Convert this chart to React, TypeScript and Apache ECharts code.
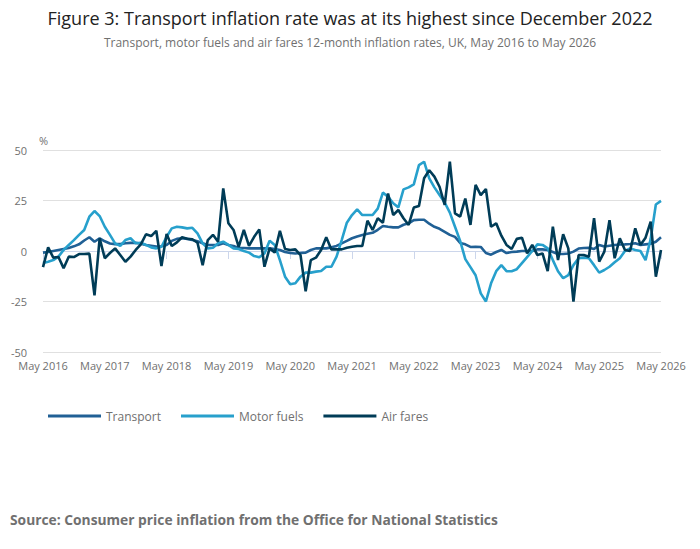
import React, { useEffect, useRef } from "react";
import * as echarts from "echarts";

const startYear = 2016;
const monthCount = 121;
const monthNames = ["Jan", "Feb", "Mar", "Apr", "May", "Jun", "Jul", "Aug", "Sep", "Oct", "Nov", "Dec"];
const categories: string[] = [];
for (let i = 0; i < monthCount; i++) {
  const m = (4 + i) % 12;
  const y = startYear + Math.floor((4 + i) / 12);
  categories.push(`${monthNames[m]} ${y}`);
}

const transport = [
  -0.8, -0.5, 0, 0.5, 1, 1.5, 2.3, 3.3, 5.2, 6.8, 4.6, 6.3,
  4.8, 3.7, 3.4, 3.4, 3.8, 4, 4.1, 3.6, 3, 2.6, 2.2, 2.3,
  3, 5, 6, 6.3, 6, 5.5, 4.8, 3.8, 3, 3, 3, 3.8,
  3, 2.5, 1.5, 1.5, 1.3, 1.3, 1.3, 1.3, 1.3, 1, 0.5, -0.5,
  -1, -1.2, -1, -0.8, 0.5, 1.3, 1.3, 1.3, 1.8, 2.5, 3.8, 5,
  6.3, 7.2, 7.9, 8.5, 9, 10.5, 12.4, 12, 11.7, 11.7, 13, 13.7,
  15.3, 15.5, 15.5, 13.5, 12, 11, 9.5, 8, 7, 4, 3.3, 2,
  2.1, 2, -1, -1.8, -0.5, 0.5, -1, -0.5, -0.3, 0, 0, 0,
  0.8, 0.8, 0.5, -0.5, -1.5, -1.5, -1.2, -0.3, 1.2, 1.5, 1.6, 1,
  3, 2.2, 2.6, 3, 3.2, 3.3, 3.5, 3.8, 3, 3.3, 3.6, 4.6,
  6.8,
];

const motorFuels = [
  -6, -5.3, -4.5, -2.8, 0.5, 3, 5.4, 8, 10.4, 17, 19.8, 17.3,
  12, 8, 3.8, 2.5, 5.4, 6.3, 3.8, 4.1, 3, 1.8, 1.3, 2.1,
  7, 11.2, 12, 11.7, 11.2, 11.5, 8.7, 3.8, 1.3, 1.6, 3.8, 4.6,
  3, 1.3, 1, 0, -0.8, -2.5, -3.1, -1.2, 5.1, 3, -4.5, -12.7,
  -16.5, -16, -12.7, -10.7, -10.7, -10.2, -9.9, -7.8, -7.8, -2.8, 5.4, 14,
  17.8, 20.6, 17.8, 17.8, 17.8, 21, 28.9, 26.9, 23.6, 21.6, 30.5, 31.5,
  33, 42.5, 44.2, 36, 31.5, 27.7, 24, 19, 12, 5, -4, -8,
  -12, -21, -25, -16, -10, -7, -10, -10, -9, -6, -3, 0,
  3.3, 3, 1.3, -4.5, -10, -13.5, -11.9, -7, -3.6, -3.3, -3.6, -7,
  -10.7, -9.4, -7.8, -5.6, -3.6, 0, 1.3, 0.5, 0, -4.5, 6, 23,
  24.8,
];

const airFares = [
  -8, 1.8, -3.3, -3, -8.5, -2.8, -3, -1.5, -1.5, -1.3, -22, 6.3,
  -3.6, -1, 1.3, -2, -5.3, -2.8, 0.5, 3.3, 8.3, 7.4, 10, -7.4,
  8.4, 2.5, 4.3, 6.8, 6.1, 5.8, 4.1, -7, 5.4, 8, 4.6, 31,
  13.7, 10.4, 2.1, 10.4, 2.5, 7, 10.7, -7.8, 1.3, -0.8, 10, 1,
  0.5, 0.8, -2, -20, -4.5, -3.3, 0.5, 6.8, 0.8, 0.8, 0.8, 1.6,
  2.1, 2.5, 2.5, 15, 10.4, 16.2, 14, 28.5, 17.8, 20.3, 16.2, 12.9,
  21.5, 22.3, 36, 40, 36.8, 31.8, 22.8, 44.2, 18.6, 17, 26, 12.9,
  32.7, 27.7, 30.7, 12, 13.7, 7.6, 3, 1, 6, 6.6, -1.2, 3,
  -2, -1.2, -10, 12, -4.5, 8.3, 1.3, -25, -2, -2, -2.8, 16.2,
  -5.3, -0.3, 15.3, -3.6, 6.3, 0.5, 0, 11.2, 3, 6.6, 14.5, -12.7,
  0.5,
];

const seriesNames = ["Transport", "Motor fuels", "Air fares"];
const seriesColors = ["#206095", "#27a0cc", "#003c57"];

const titleText = "Figure 3: Transport inflation rate was at its highest since December 2022";
const subtitleText = "Transport, motor fuels and air fares 12-month inflation rates, UK, May 2016 to May 2026";
const sourceText = "Source: Consumer price inflation from the Office for National Statistics";

const FONT = "'Open Sans', 'Noto Sans', sans-serif";

export default function App() {
  const ref = useRef<HTMLDivElement>(null);
  useEffect(() => {
    if (!ref.current) return;
    const chart = echarts.init(ref.current, undefined, { renderer: "svg" });
    const data = [transport, motorFuels, airFares];
    chart.setOption({
      animation: false,
      backgroundColor: "#ffffff",
      textStyle: { fontFamily: FONT },
      title: {
        text: titleText,
        subtext: subtitleText,
        left: "center",
        top: 4,
        itemGap: 9,
        textStyle: { fontFamily: FONT, fontSize: 18, fontWeight: "normal", color: "#222222" },
        subtextStyle: { fontFamily: FONT, fontSize: 12, color: "#707070" },
      },
      legend: {
        left: 43,
        top: 405,
        icon: "rect",
        itemWidth: 53,
        itemHeight: 3,
        itemGap: 20,
        textStyle: { fontFamily: FONT, fontSize: 12, color: "#707070" },
        data: seriesNames,
      },
      grid: { left: 43, right: 39, top: 150, bottom: 197, containLabel: false },
      xAxis: {
        type: "category",
        data: categories,
        boundaryGap: false,
        axisLine: { lineStyle: { color: "#ccd6eb", width: 1 } },
        axisTick: { interval: 11, length: 8, lineStyle: { color: "#ccd6eb" } },
        axisLabel: {
          interval: 11,
          color: "#707070",
          fontSize: 11,
          fontFamily: FONT,
          margin: 8,
        },
      },
      yAxis: {
        type: "value",
        min: -50,
        max: 50,
        interval: 25,
        name: "%",
        nameLocation: "end",
        nameGap: 4,
        nameTextStyle: { color: "#707070", fontSize: 11, fontFamily: FONT, align: "left", padding: [0, 0, 0, -4] },
        axisLine: { show: false },
        axisTick: { show: false },
        axisLabel: { color: "#707070", fontSize: 11, fontFamily: FONT, margin: 16 },
        splitLine: { lineStyle: { color: "#e0e0e0", width: 1 } },
      },
      series: seriesNames.map((name, k) => ({
        name,
        type: "line",
        data: data[k],
        symbol: "none",
        z: 3 + k,
        lineStyle: { color: seriesColors[k], width: 2.6 },
        itemStyle: { color: seriesColors[k] },
      })),
      graphic: [
        {
          type: "text",
          left: 10,
          top: 512,
          style: {
            text: sourceText,
            fontFamily: FONT,
            fontSize: 13.8,
            fontWeight: "bold",
            fill: "#707070",
          },
        },
      ],
    });
    return () => chart.dispose();
  }, []);
  return (
    <div
      ref={ref}
      style={{ position: "fixed", left: 0, top: 0, width: 700, height: 549 }}
    />
  );
}
